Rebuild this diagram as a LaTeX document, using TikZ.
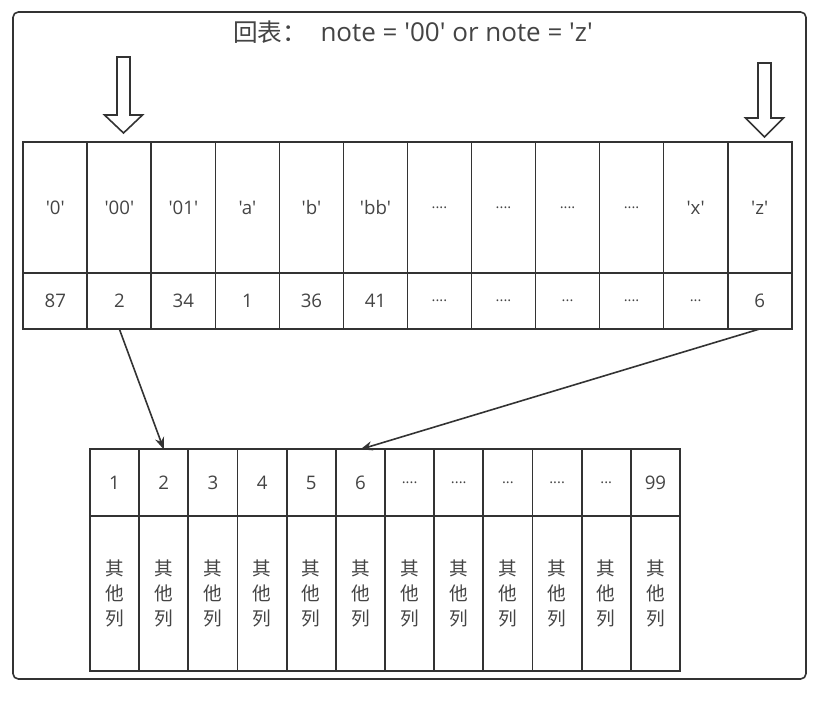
\documentclass[tikz,border=0pt]{standalone}
\usepackage{fontspec}
\newfontfamily\latf{Open Sans}
\newfontfamily\cjk{Noto Sans CJK SC}
\usetikzlibrary{arrows.meta}
\definecolor{ln}{HTML}{333333}
\definecolor{tx}{HTML}{444444}
\newcommand\dd[1]{{\fontsize{11}{11}\selectfont #1}}
\tikzset{
  cell/.style={draw=ln, line width=1.3pt, inner sep=0pt, outer sep=0pt, text=tx,
    font=\latf\fontsize{14}{16}\selectfont},
  topk/.style={cell, minimum width=48.02pt, minimum height=98.25pt},
  topv/.style={cell, minimum width=48.02pt, minimum height=42pt},
  botn/.style={cell, minimum width=36.88pt, minimum height=50pt},
  boto/.style={cell, minimum width=36.88pt, minimum height=116pt, align=center,
    font=\cjk\fontsize{14}{18.75}\selectfont},
  bigarrow/.style={draw=ln, line width=1.2pt, fill=white, line join=miter},
  conn/.style={draw=ln, line width=1.2pt, -{Stealth[length=9pt,width=7pt]}},
  frame/.style={draw=ln, line width=1.2pt, rounded corners=4pt}
}
\begin{document}
\begin{tikzpicture}[x=0.75pt,y=-0.75pt]
\useasboundingbox (0,0) rectangle (822,702);
\draw[frame] (13,12) rectangle (806,679);
\node[text=tx, font=\latf\fontsize{19.5}{22}\selectfont] (title) at (413,32)
  {{\cjk\fontsize{18.5}{22}\selectfont 回表：}\hspace{10pt}note = '00' or note = 'z'};
% top table
\foreach \i/\k/\v in {1/'0'/87, 2/'00'/2, 3/'01'/34, 4/'a'/1, 5/'b'/36, 6/'bb'/41,
  7/\dd{....}/\dd{....}, 8/\dd{....}/\dd{....}, 9/\dd{....}/\dd{...}, 10/\dd{....}/\dd{....},
  11/'x'/\dd{...}, 12/'z'/6}{
  \pgfmathsetmacro\cx{23.3+64.03*(\i-0.5)}
  \node[topk] (t\i) at (\cx,207.5) {\k};
  \node[topv] (v\i) at (\cx,301) {\v};
}
% bottom table
\foreach \i/\n in {1/1, 2/2, 3/3, 4/4, 5/5, 6/6, 7/\dd{....}, 8/\dd{....}, 9/\dd{...},
  10/\dd{....}, 11/\dd{...}, 12/99}{
  \pgfmathsetmacro\cx{90+49.17*(\i-0.5)}
  \node[botn] (b\i) at (\cx,482.67) {\n};
  \node[boto] (o\i) at (\cx,593.33) {其\\他\\列};
}
\draw[ln, line width=2pt] (b6.north east) -- (o6.south east);
% big hollow arrows
\draw[bigarrow] (117,57) -- (130,57) -- (130,115) -- (142.5,115) -- (123.5,133)
  -- (104.5,115) -- (117,115) -- cycle;
\draw[bigarrow] (758,63) -- (771,63) -- (771,118) -- (783.5,118) -- (764.5,137)
  -- (745.5,118) -- (758,118) -- cycle;
% connectors
\draw[conn] (v2.south) -- (b2.north);
\draw[conn] (v12.south) -- (b6.north);
\end{tikzpicture}
\end{document}
